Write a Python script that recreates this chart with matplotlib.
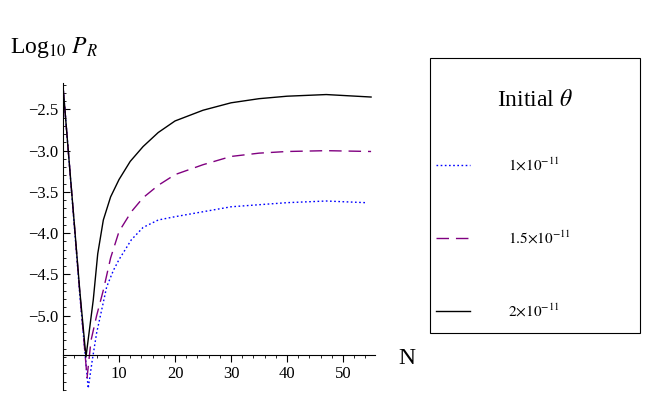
import matplotlib
matplotlib.use("Agg")
import matplotlib.pyplot as plt
from matplotlib.patches import Rectangle
from matplotlib.lines import Line2D
from matplotlib.ticker import MultipleLocator

plt.rcParams["font.family"] = "Liberation Serif"
plt.rcParams["mathtext.fontset"] = "stix"

n_black = [0, 1, 2, 3, 4.1, 5.4, 6.2, 7.2, 8.5, 10, 12, 14.3, 17, 20, 25, 30, 35, 40, 47, 55]
y_black = [-2.22, -3.05, -3.87, -4.7, -5.5, -4.81, -4.25, -3.84, -3.56, -3.35, -3.13, -2.95,
           -2.78, -2.64, -2.51, -2.42, -2.37, -2.34, -2.32, -2.35]
n_purple = [0, 1, 2, 3, 4.3, 5, 6, 7.2, 8.5, 10, 12.2, 14.3, 17, 20, 25, 30, 35, 40, 47, 55]
y_purple = [-2.22, -3.05, -3.87, -4.72, -5.75, -5.3, -5.0, -4.69, -4.3, -3.98, -3.74, -3.57,
            -3.42, -3.29, -3.17, -3.07, -3.03, -3.01, -3.0, -3.01]
n_blue = [0, 1, 2, 3, 4.5, 5.2, 6, 7, 7.8, 9, 10, 12.2, 14.3, 17, 20, 25, 30, 40, 47, 54]
y_blue = [-2.22, -3.05, -3.9, -4.75, -5.88, -5.55, -5.21, -4.9, -4.65, -4.45, -4.32, -4.08,
          -3.93, -3.84, -3.8, -3.74, -3.68, -3.63, -3.61, -3.63]
labels = [r"$1{\times}10^{-11}$", r"$1.5{\times}10^{-11}$", r"$2{\times}10^{-11}$"]

fig = plt.figure(figsize=(6.54, 4.09), dpi=100)
ax = fig.add_axes([63 / 654, 1 - 390 / 409, (375 - 63) / 654, (390 - 83) / 409])
ax.plot(n_blue, y_blue, color="blue", lw=1, ls=(0, (1.2, 1.8)))
ax.plot(n_purple, y_purple, color="#800080", lw=1, ls=(0, (9, 5)))
ax.plot(n_black, y_black, color="black", lw=1)
ax.set_xlim(0, 55.7)
ax.set_ylim(-5.9, -2.18)
for s in ("top", "right"):
    ax.spines[s].set_visible(False)
ax.spines["left"].set_position(("data", 0))
ax.spines["bottom"].set_position(("data", -5.47))
ax.set_xticks([10, 20, 30, 40, 50])
ax.set_yticks([-2.5, -3.0, -3.5, -4.0, -4.5, -5.0])
ax.set_yticklabels(["\u22122.5", "\u22123.0", "\u22123.5", "\u22124.0", "\u22124.5", "\u22125.0"])
ax.xaxis.set_minor_locator(MultipleLocator(2))
ax.yaxis.set_minor_locator(MultipleLocator(0.1))
ax.tick_params(labelsize=12, direction="in", length=5)
ax.tick_params(which="minor", direction="in", length=2.5)
ax.tick_params(axis="x", direction="out")
ax.tick_params(axis="x", which="minor", direction="out")

fig.text(10 / 654, 1 - 48 / 409, r"Log$_{10}$ $P_R$", fontsize=17, va="center")
fig.text(398 / 654, 1 - 358 / 409, "N", fontsize=17, va="center")

# legend box
fig.patches.append(Rectangle((430 / 654, 1 - 333 / 409), 210 / 654, 275 / 409,
                             transform=fig.transFigure, fill=False, lw=0.8, ec="black"))
fig.text(535 / 654, 1 - 100 / 409, r"Initial $\theta$", fontsize=17, ha="center", va="center")
styles = [("blue", (0, (1.2, 1.8))), ("#800080", (0, (9, 5))), ("black", "-")]
for i, ((c, ls), lab) in enumerate(zip(styles, labels)):
    yy = 1 - (165 + 73 * i) / 409
    fig.add_artist(Line2D([436 / 654, 470 / 654], [yy, yy], color=c, ls=ls, lw=1,
                          transform=fig.transFigure))
    fig.text(508 / 654, yy, lab, fontsize=11, va="center")

fig.savefig("out.png", dpi=100)
